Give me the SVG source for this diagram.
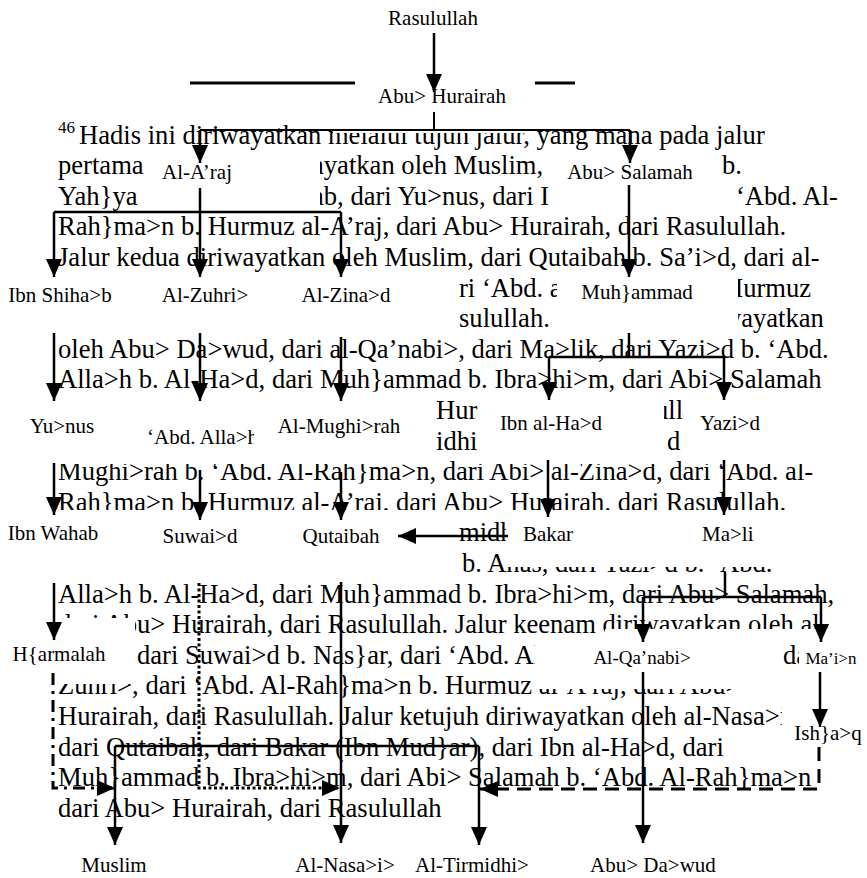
<svg xmlns="http://www.w3.org/2000/svg" width="867" height="878" viewBox="0 0 867 878">
<style>
.t{font-family:"Liberation Serif","Times New Roman",serif;font-size:26.6px;fill:#000}
.l{font-family:"Liberation Serif","Times New Roman",serif;font-size:21px;fill:#000;text-anchor:middle}
.ls{font-family:"Liberation Serif","Times New Roman",serif;font-size:21px;fill:#000}
.m{fill:#fff}
.c path{stroke:#000;stroke-width:2.5;fill:none}
.c .a{marker-end:url(#ah)}
.c .dot{stroke-width:3;stroke-dasharray:3 2.5}
.c .dd{stroke-width:3;stroke-dasharray:12 6 3 6}
.c .ds{stroke-width:3;stroke-dasharray:14 8}
</style>
<defs>
<marker id="ah" markerUnits="userSpaceOnUse" markerWidth="18" markerHeight="16" refX="18" refY="8" orient="auto"><path d="M0,0 L18,8 L0,16 z" fill="#000"/></marker>
<clipPath id="cAbd"><rect x="120" y="415" width="134" height="40"/></clipPath>
</defs>
<rect width="867" height="878" fill="#fff"/>
<g id="footnote">
<text class="t" x="58" y="133" style="font-size:17px">46</text>
<text class="t" x="79" y="143.5">Hadis ini diriwayatkan melalui tujuh jalur, yang mana pada jalur</text>
<text class="t" x="58" y="174.1">pertama</text>
<text class="t" x="312" y="174.1">ayatkan oleh Muslim,</text>
<text class="t" x="722" y="174.1">b.</text>
<text class="t" x="58" y="204.7">Yah}ya</text>
<text class="t" x="312" y="204.7">ab, dari Yu&gt;nus, dari I</text>
<text class="t" x="736" y="204.7">‘Abd. Al-</text>
<text class="t" x="58" y="235.3">Rah}ma&gt;n b. Hurmuz al-A’raj, dari Abu&gt; Hurairah, dari Rasulullah.</text>
<text class="t" x="58" y="265.9">Jalur kedua diriwayatkan oleh Muslim, dari Qutaibah b. Sa’i&gt;d, dari al-</text>
<text class="t" x="459" y="296.5">ri ‘Abd. a</text>
<text class="t" x="724" y="296.5">Hurmuz</text>
<text class="t" x="459" y="327.1">sulullah.</text>
<text class="t" x="722" y="327.1">wayatkan</text>
<text class="t" x="58" y="357.7">oleh Abu&gt; Da&gt;wud, dari al-Qa’nabi&gt;, dari Ma&gt;lik, dari Yazi&gt;d b. ‘Abd.</text>
<text class="t" x="58" y="388.3">Alla&gt;h b. Al-Ha&gt;d, dari Muh}ammad b. Ibra&gt;hi&gt;m, dari Abi&gt; Salamah</text>
<text class="t" x="436" y="418.9">Hura</text>
<text class="t" x="655" y="418.9">ulla</text>
<text class="t" x="436" y="449.5">idhi&gt;</text>
<text class="t" x="667" y="449.5">d</text>
<text class="t" x="58" y="480.1">Mughi&gt;rah b. ‘Abd. Al-Rah}ma&gt;n, dari Abi&gt; al-Zina&gt;d, dari ‘Abd. al-</text>
<text class="t" x="58" y="510.7">Rah}ma&gt;n b. Hurmuz al-A’raj, dari Abu&gt; Hurairah, dari Rasulullah.</text>
<text class="t" x="459" y="541.3">midh</text>
<text class="t" x="462" y="571.9">b. Anas, dari Yazi&gt;d b. ‘Abd.</text>
<text class="t" x="58" y="602.5">Alla&gt;h b. Al-Ha&gt;d, dari Muh}ammad b. Ibra&gt;hi&gt;m, dari Abu&gt; Salamah,</text>
<text class="t" x="58" y="633.1">dari Abu&gt; Hurairah, dari Rasulullah. Jalur keenam diriwayatkan oleh al-</text>
<text class="t" x="137" y="663.7">dari Suwai&gt;d b. Nas}ar, dari ‘Abd. Al</text>
<text class="t" x="783" y="663.7">da</text>
<text class="t" x="58" y="694.3">Zuhri&gt;, dari ‘Abd. Al-Rah}ma&gt;n b. Hurmuz al-A’raj, dari Abu&gt;</text>
<text class="t" x="58" y="724.9">Hurairah, dari Rasulullah. Jalur ketujuh diriwayatkan oleh al-Nasa&gt;i&gt;</text>
<text class="t" x="58" y="755.5">dari Qutaibah, dari Bakar (Ibn Mud}ar), dari Ibn al-Ha&gt;d, dari</text>
<text class="t" x="58" y="786.1">Muh}ammad b. Ibra&gt;hi&gt;m, dari Abi&gt; Salamah b. ‘Abd. Al-Rah}ma&gt;n</text>
<text class="t" x="58" y="816.7">dari Abu&gt; Hurairah, dari Rasulullah</text>
</g>
<g id="n-rasulullah"><text class="l" x="433" y="25">Rasulullah</text></g>
<g id="n-abu-hurairah"><rect class="m" x="333" y="74" width="202" height="59"/><text class="l" x="442" y="103">Abu&gt; Hurairah</text></g>
<g id="n-al-araj"><rect class="m" x="145" y="151" width="175" height="63"/><text class="l" x="197" y="179">Al-A’raj</text></g>
<g id="n-abu-salamah"><rect class="m" x="546" y="151" width="174" height="31"/><rect class="m" x="549" y="182" width="187" height="32"/><text class="l" x="630" y="179">Abu&gt; Salamah</text></g>
<g id="n-ibn-shihab"><rect class="m" x="0" y="273" width="157" height="64"/><text class="l" x="60" y="302">Ibn Shiha&gt;b</text></g>
<g id="n-al-zuhri"><rect class="m" x="157" y="273" width="130" height="64"/><text class="l" x="205" y="302">Al-Zuhri&gt;</text></g>
<g id="n-al-zinad"><rect class="m" x="287" y="273" width="170" height="64"/><text class="l" x="346" y="302">Al-Zina&gt;d</text></g>
<g id="n-muhammad"><rect class="m" x="557" y="273" width="181" height="64"/><text class="l" x="637" y="299">Muh}ammad</text></g>
<g id="n-yunus"><rect class="m" x="0" y="402" width="120" height="62"/><text class="l" x="62" y="433">Yu&gt;nus</text></g>
<g id="n-abdallah"><rect class="m" x="120" y="402" width="145" height="62"/><text class="ls" x="147" y="444" clip-path="url(#cAbd)">‘Abd. Alla&gt;h</text></g>
<g id="n-al-mughirah"><rect class="m" x="265" y="402" width="169" height="62"/><text class="l" x="339" y="433">Al-Mughi&gt;rah</text></g>
<g id="n-ibn-al-had"><rect class="m" x="478" y="402" width="186" height="62"/><text class="l" x="551" y="430">Ibn al-Ha&gt;d</text></g>
<g id="n-yazid"><rect class="m" x="684" y="402" width="183" height="62"/><text class="l" x="730" y="430">Yazi&gt;d</text></g>
<g id="n-ibn-wahab"><rect class="m" x="0" y="510" width="130" height="57"/><text class="l" x="53" y="540">Ibn Wahab</text></g>
<g id="n-suwaid"><rect class="m" x="130" y="510" width="140" height="57"/><text class="l" x="200" y="543">Suwai&gt;d</text></g>
<g id="n-qutaibah"><rect class="m" x="270" y="510" width="187" height="57"/><rect class="m" x="457" y="510" width="49" height="10"/><text class="l" x="341" y="543">Qutaibah</text></g>
<g id="n-bakar"><rect class="m" x="506" y="510" width="144" height="57"/><text class="l" x="548" y="541">Bakar</text></g>
<g id="n-malik"><rect class="m" x="650" y="510" width="217" height="57"/><text class="ls" x="702" y="541">Ma&gt;li</text></g>
<g id="n-harmalah"><rect class="m" x="0" y="618" width="135" height="66"/><text class="l" x="59" y="661">H{armalah</text></g>
<g id="n-al-qanabi"><rect class="m" x="605" y="629" width="194" height="11"/><rect class="m" x="535" y="640" width="245" height="49"/><text class="l" x="642" y="664" style="font-size:19px">Al-Qa’nabi&gt;</text></g>
<g id="n-main"><rect class="m" x="799" y="629" width="68" height="60"/><text class="l" x="831" y="664" style="font-size:17px">Ma’i&gt;n</text></g>
<g id="n-ishaq"><rect class="m" x="782" y="703" width="85" height="47"/><text class="l" x="828" y="740">Ish}a&gt;q</text></g>
<g id="n-muslim"><text class="l" x="114" y="872">Muslim</text></g>
<g id="n-al-nasai"><text class="l" x="345" y="872">Al-Nasa&gt;i&gt;</text></g>
<g id="n-al-tirmidhi"><text class="l" x="472" y="872">Al-Tirmidhi&gt;</text></g>
<g id="n-abu-dawud"><text class="l" x="653" y="872">Abu&gt; Da&gt;wud</text></g>
<g id="connectors" class="c">
<path class="a" d="M434,33 V92"/>
<path d="M190,83 H355 M535,83 H575" style="stroke-width:3"/>
<path d="M434,112 V130 M200,130 H630" style="stroke-width:2"/>
<path class="a" d="M200,130 V163"/>
<path class="a" d="M630,130 V163"/>
<path d="M54,212 H341"/>
<path class="a" d="M200,188 V277"/>
<path class="a" d="M54,212 V277"/>
<path class="a" d="M341,212 V277"/>
<path class="a" d="M629,185 V277"/>
<path class="a" d="M54,333 V401"/>
<path class="a" d="M200,333 V401"/>
<path class="a" d="M341,337 V401"/>
<path d="M629,333 V357 M549,357 H724"/>
<path class="a" d="M549,357 V400"/>
<path class="a" d="M724,357 V400"/>
<path class="a" d="M54,463 V515"/>
<path class="a" d="M200,470 V520"/>
<path class="a" d="M341,472 V520"/>
<path class="a" d="M548,460 V517"/>
<path class="a" d="M724,460 V515"/>
<path class="a" d="M508,536 H398"/>
<path class="a" d="M54,583 V640"/>
<path d="M725,572 V597 M643,597 H821"/>
<path class="a" d="M643,597 V642"/>
<path class="a" d="M821,597 V642"/>
<path class="a" d="M341,582 V843"/>
<path d="M115,746 H479"/>
<path class="a" d="M115,746 V845"/>
<path class="a" d="M479,746 V845"/>
<path class="a dot" d="M199,583 V788 H340"/>
<path class="a dd" d="M53,673 V788 H115"/>
<path class="a" d="M643,672 V843"/>
<path class="a" d="M820,672 V727"/>
<path class="a ds" d="M819,747 V789 H480"/>
</g>
</svg>
